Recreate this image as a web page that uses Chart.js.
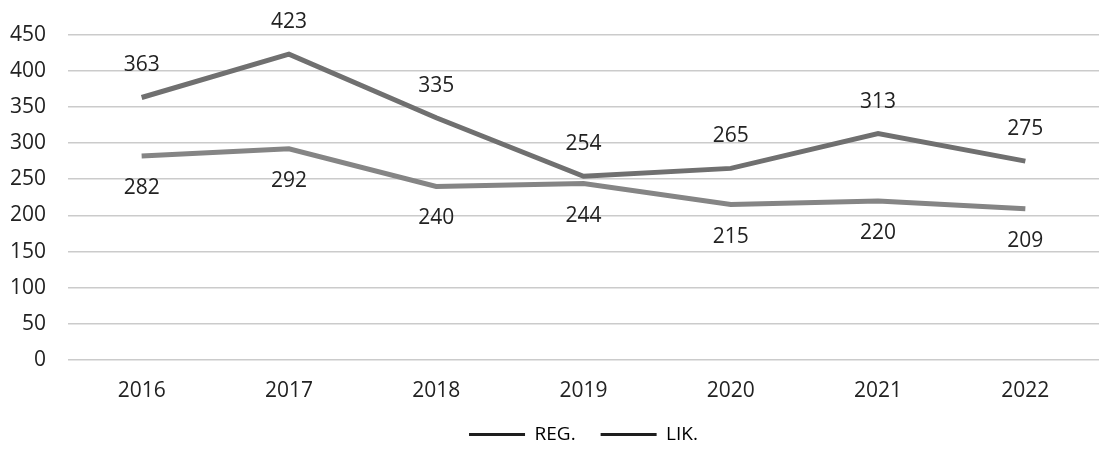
<!DOCTYPE html>
<html>
<head>
<meta charset="utf-8">
<script src="https://cdn.jsdelivr.net/npm/chart.js@4"></script>
<style>
    html, body { margin: 0; padding: 0; background: #fff; }
    #wrap { width: 1099px; height: 453px; }
</style>
</head>
<body>
<div id="wrap"><canvas id="chart"></canvas></div>
<script>
// Chart data
const years = ['2016', '2017', '2018', '2019', '2020', '2021', '2022'];
const regValues = [282, 292, 240, 244, 215, 220, 209];
const likValues = [363, 423, 335, 254, 265, 313, 275];
const yTicks = [0, 50, 100, 150, 200, 250, 300, 350, 400, 450];

const FONT = "'Open Sans', sans-serif";

// Draws the value next to every point: LIK. above, REG. below
const valueLabels = {
    id: 'valueLabels',
    afterDatasetsDraw(chart) {
        const ctx = chart.ctx;
        ctx.save();
        ctx.font = '21px ' + FONT;
        ctx.fillStyle = '#222';
        ctx.textAlign = 'center';
        ctx.textBaseline = 'middle';
        chart.data.datasets.forEach((ds, i) => {
            const meta = chart.getDatasetMeta(i);
            meta.data.forEach((pt, j) => {
                const dy = ds.labelPos === 'above' ? -32 : 32;
                ctx.fillText(String(ds.data[j]), pt.x, pt.y + dy);
            });
        });
        ctx.restore();
    }
};

new Chart(document.getElementById('chart'), {
    type: 'line',
    data: {
        labels: years,
        datasets: [{
            label: 'REG.',
            data: regValues,
            borderColor: '#858585',
            borderWidth: 5,
            pointRadius: 0,
            labelPos: 'below'
        }, {
            label: 'LIK.',
            data: likValues,
            borderColor: '#707070',
            borderWidth: 5,
            pointRadius: 0,
            labelPos: 'above'
        }]
    },
    options: {
        responsive: true,
        maintainAspectRatio: false,
        animation: false,
        layout: { padding: { top: 33, left: 0, right: 0, bottom: 0 } },
        scales: {
            x: {
                offset: true,
                afterFit(scale) { scale.height = 40; },
                grid: { display: false, drawTicks: false },
                border: { display: false },
                ticks: { padding: 18, color: '#222', font: { family: FONT, size: 21 } }
            },
            y: {
                min: 0,
                max: 450,
                afterFit(scale) { scale.width = 68; },
                afterBuildTicks(scale) { scale.ticks = yTicks.map(v => ({ value: v })); },
                grid: { color: '#cbcbcb', lineWidth: 1.5, drawTicks: false },
                border: { display: false },
                ticks: { padding: 22, color: '#222', font: { family: FONT, size: 21 } }
            }
        },
        plugins: {
            tooltip: { enabled: false },
            legend: {
                position: 'bottom',
                fullSize: false,
                maxHeight: 53,
                labels: {
                    color: '#222',
                    font: { family: FONT, size: 19 },
                    boxWidth: 56,
                    boxHeight: 3,
                    padding: 25,
                    generateLabels(chart) {
                        return chart.data.datasets.map((ds, i) => ({
                            text: ds.label,
                            fillStyle: '#1e1e1e',
                            strokeStyle: '#1e1e1e',
                            lineWidth: 0,
                            datasetIndex: i
                        }));
                    }
                }
            }
        }
    },
    plugins: [valueLabels]
});
</script>
</body>
</html>
